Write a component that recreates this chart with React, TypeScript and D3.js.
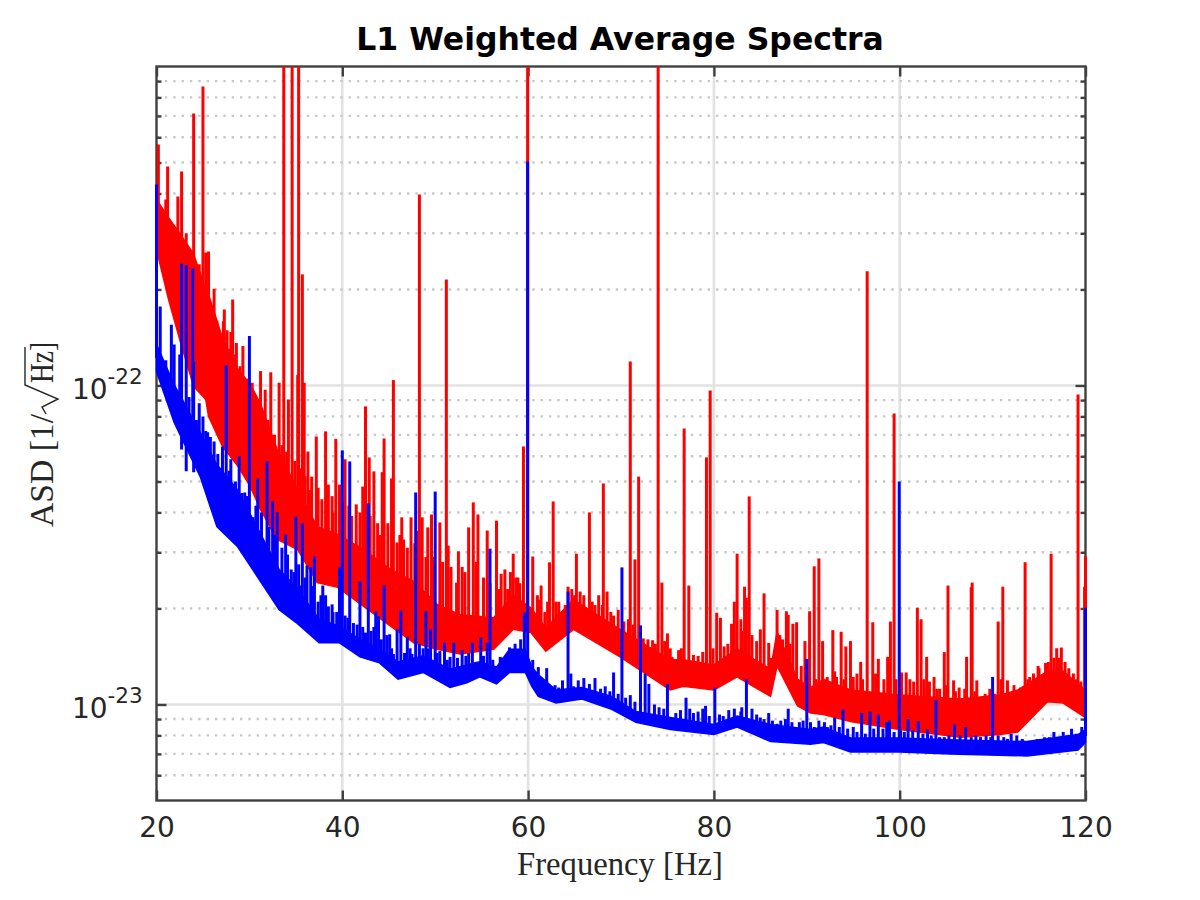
import { useEffect, useRef } from 'react';
import * as d3 from 'd3';

// all ASD values below are in units of 1e-23 / sqrt(Hz)
const unit = 1e-23;

const xTicks = [20, 40, 60, 80, 100, 120];
const yMajorTicks = [1e-23, 1e-22];
const yMinorTicks = [6e-24, 7e-24, 8e-24, 9e-24, 2e-23, 3e-23, 4e-23, 5e-23, 6e-23, 7e-23, 8e-23, 9e-23,
  2e-22, 3e-22, 4e-22, 5e-22, 6e-22, 7e-22, 8e-22, 9e-22];
const yTickLabels = ['-23', '-22'];

// noise floor of the red trace
const redBandHz = [20, 21.3, 22.6, 24, 25.3, 25.6, 27.1, 28.8, 30.1, 31.2, 33, 35.2, 37.3, 39.5, 42.3, 45.2, 47.7, 50.2, 52.7, 56.3, 58.4, 60.3, 61.9, 64.9, 69.9, 75.3, 76.7, 80, 82.5, 86.1, 86.8, 89, 90.4, 91.8, 94.7, 100, 106.5, 110.8, 112.7, 115.9, 117.6, 120];
const redBandLow = [26.7, 18.6, 13.6, 9.93, 9.04, 8, 6.44, 5.57, 4.82, 4.08, 3.29, 3.06, 2.41, 2.33, 2.03, 1.76, 1.56, 1.49, 1.44, 1.49, 1.72, 1.68, 1.47, 1.72, 1.41, 1.11, 1.14, 1.11, 1.22, 1.06, 1.32, 0.99, 0.94, 0.93, 0.885, 0.835, 0.79, 0.805, 0.82, 1.02, 1.01, 0.91];
const redBandHigh = [38.3, 33.6, 29.7, 25.8, 20, 19.3, 14.1, 11.2, 10.1, 8.75, 6.3, 4.72, 3.61, 3.41, 3.06, 2.65, 2.43, 2.06, 1.91, 1.87, 2.2, 2.01, 1.74, 2.13, 1.72, 1.38, 1.38, 1.33, 1.49, 1.29, 1.69, 1.2, 1.13, 1.2, 1.11, 1.07, 1.04, 1.07, 1.11, 1.27, 1.27, 1.11];

const redPeakHz = [20.2, 20.4, 21, 21.2, 21.5, 21.9, 22.3, 22.7, 23, 23.2, 23.4, 24, 24.3, 25, 25.3, 25.6, 26.2, 27.2, 27.3, 27.6, 28, 28.2, 28.6, 29.3, 30.3, 31.2, 31.7, 32.3, 33.2, 33.7, 34.2, 34.6, 35.2, 35.3, 35.7, 35.9, 36.3, 36.7, 37.2, 37.4, 38.2, 38.5, 39.3, 39.7, 40.3, 41.5, 42.2, 42.5, 42.9, 43.4, 44.3, 44.5, 45.3, 45.5, 45.9, 46.4, 46.6, 47.4, 48.3, 48.6, 49.2, 49.6, 50.5, 51.2, 51.4, 52.3, 52.5, 53.6, 54.1, 54.6, 55.6, 56.6, 57.1, 57.5, 58.4, 58.9, 59.5, 59.95, 60.5, 61.2, 61.4, 62.3, 62.7, 63.3, 63.7, 64.3, 65.2, 65.6, 66.6, 67.6, 68.1, 68.5, 69.7, 71, 71.5, 71.9, 72.4, 73.4, 74, 74.4, 75, 75.5, 75.9, 76.8, 77.3, 79.2, 79.6, 80.3, 80.7, 81.9, 82.2, 82.5, 82.9, 83.3, 83.5, 83.8, 85, 85.4, 85.9, 86.8, 87.8, 88, 88.5, 88.9, 89.8, 90.3, 90.8, 91.3, 91.7, 92.8, 93.2, 93.7, 94.2, 94.7, 95.8, 96.5, 97.1, 97.7, 98.7, 99, 99.4, 100.2, 100.7, 101.9, 102.3, 102.9, 103.7, 104.3, 104.8, 105.2, 105.8, 106.8, 107.2, 107.7, 107.8, 108.3, 108.7, 110.6, 111.1, 111.6, 112, 112.5, 113, 113.5, 114, 114.9, 115.4, 116, 116.3, 116.9, 117.4, 117.8, 119, 119.2, 119.9, 120];
const redPeakAsd = [56.9, 35.1, 38.3, 48.6, 30.4, 30.4, 39.1, 46.9, 24.8, 30, 22.3, 71.2, 22.8, 86.6, 26.1, 26.3, 20.1, 15.9, 17.3, 14.9, 14.7, 18.6, 13.6, 13.3, 10.2, 11.1, 9.7, 11, 10.2, 130, 9.04, 130, 10.8, 130, 22.3, 10.2, 6.21, 5.18, 6.92, 4.78, 7.18, 4.89, 6.8, 4.89, 5.87, 4.24, 4.82, 8.6, 5.95, 5.38, 5.35, 6.82, 5.11, 10.4, 3.22, 3.86, 3.29, 3.86, 39.7, 3.86, 3.59, 3.94, 3.72, 21.5, 3.15, 2.41, 3.02, 3.59, 4.3, 3.94, 3.51, 3.77, 2.57, 2.65, 2.97, 2.5, 6.44, 160, 2.91, 2.13, 2.36, 2.79, 4.33, 2.1, 1.96, 2.34, 2.97, 2.26, 4, 2.2, 4.93, 2.26, 1.98, 11.9, 2.85, 5.18, 1.61, 1.59, 150, 2.41, 1.67, 1.41, 1.36, 7.33, 2.36, 5.95, 9.65, 1.94, 1.87, 1.79, 2.1, 2.97, 1.85, 2.34, 2.16, 4.49, 1.72, 2.23, 1.56, 1.98, 1.96, 1.91, 1.79, 1.81, 1.58, 1.96, 2.71, 2.87, 1.58, 1.71, 1.22, 1.69, 1.52, 1.58, 1.36, 22.8, 1.81, 1.39, 1.41, 1.82, 8.17, 1.26, 1.26, 2.01, 1.85, 1.41, 1.22, 1.12, 1.46, 2.36, 1.19, 1.04, 1.41, 2.33, 2.41, 1.19, 1.05, 1.82, 2.34, 1.19, 1.05, 1.09, 1.13, 2.79, 1.22, 1.32, 1.22, 1.36, 2.97, 1.5, 1.51, 1.36, 1.2, 9.37, 2.34, 2.91];

// the small comb lines that make the top of the red band rough
const redCombHz = [20.7, 21.7, 22.1, 22.9, 23.7, 24.6, 24.8, 25.9, 26.5, 26.9, 27.9, 28.4, 29, 29.7, 30, 30.8, 31.5, 32, 32.7, 33.5, 34, 34.9, 35.5, 36, 36.5, 37.8, 38.9, 39, 40, 40.7, 41, 41.9, 43, 43.8, 44, 44.9, 46.2, 47, 47.8, 48, 49, 49.9, 50.8, 51.7, 52.9, 53.2, 54.4, 55.2, 55.9, 56.9, 57.8, 58.1, 58.7, 59.1, 61, 61.8, 62.1, 63, 64, 64.7, 65, 66, 66.9, 67.2, 68, 68.9, 69.2, 70.3, 70.8, 71.3, 72, 72.9, 73.7, 74.7, 75.3, 76.2, 76.5, 77.8, 78.3, 78.8, 79.9, 81.1, 81.5, 83, 84.1, 84.6, 86.2, 87.1, 87.4, 88.2, 89.4, 90, 91, 92.2, 93, 94, 95, 95.4, 96, 97.4, 98.3, 99.6, 100, 101.1, 101.5, 102.6, 103.2, 104, 105, 106, 106.4, 107, 108.1, 109.2, 109.7, 110.2, 110.9, 112.3, 112.9, 113.8, 114.4, 115, 115.7, 116.6, 117.1, 118.2, 118.7, 119.5];
const redCombAsd = [33, 28, 26, 27, 25, 24, 21, 17, 16, 14, 13, 12.5, 11.5, 10.5, 9.8, 8.8, 8.2, 7.8, 7, 6.5, 6.2, 5.8, 5.5, 5.2, 4.7, 4.4, 4.5, 4, 4.3, 4.2, 3.9, 4, 3.9, 3.7, 3.4, 3.7, 3.4, 3.1, 3.2, 3.5, 2.9, 2.9, 2.8, 2.7, 2.7, 2.6, 2.8, 2.5, 2.4, 2.3, 2.3, 2.6, 2.5, 2.4, 2.2, 1.95, 2.1, 2.1, 2.05, 2.3, 2.2, 2.2, 2.1, 2.05, 2.05, 1.95, 1.9, 1.82, 1.85, 1.78, 1.75, 1.6, 1.55, 1.58, 1.5, 1.48, 1.5, 1.43, 1.42, 1.46, 1.5, 1.52, 1.55, 1.7, 1.65, 1.58, 1.4, 1.65, 1.6, 1.55, 1.32, 1.3, 1.2, 1.22, 1.27, 1.2, 1.22, 1.25, 1.2, 1.25, 1.2, 1.2, 1.15, 1.2, 1.18, 1.2, 1.18, 1.12, 1.15, 1.1, 1.13, 1.12, 1.1, 1.08, 1.12, 1.08, 1.2, 1.15, 1.12, 1.2, 1.25, 1.3, 1.35, 1.4, 1.4, 1.3, 1.25, 1.18];

// noise floor of the blue trace
const blueBandHz = [20, 21.9, 24.7, 26.5, 28.7, 33.2, 35, 37.5, 39.7, 41.9, 44, 46, 48.7, 51.6, 53.4, 54.8, 56.6, 58, 59.7, 60.4, 61.1, 63, 65.8, 69, 71.6, 75.3, 80, 82.5, 86.1, 90.4, 91.8, 94.7, 100, 105.4, 113.7, 119.2, 120];
const blueBandLow = [11.06, 7.66, 5.18, 3.61, 3.13, 1.98, 1.81, 1.56, 1.56, 1.41, 1.35, 1.2, 1.26, 1.13, 1.17, 1.22, 1.16, 1.26, 1.26, 1.14, 1.06, 1.01, 1.04, 0.965, 0.88, 0.835, 0.805, 0.85, 0.765, 0.75, 0.76, 0.71, 0.71, 0.7, 0.69, 0.72, 0.76];
const blueBandHigh = [13.45, 10.07, 7.13, 5.65, 4.72, 2.65, 2.34, 1.85, 1.76, 1.6, 1.49, 1.36, 1.42, 1.29, 1.33, 1.36, 1.31, 1.49, 1.49, 1.31, 1.24, 1.11, 1.13, 1.06, 0.95, 0.91, 0.865, 0.92, 0.865, 0.835, 0.85, 0.785, 0.785, 0.775, 0.765, 0.805, 0.835];

const bluePeakHz = [20, 20.4, 21, 21.6, 21.9, 22.5, 22.7, 22.7, 23.2, 23.2, 23.9, 24, 24, 24.6, 25, 25.5, 26.2, 27.1, 27.5, 28, 28.5, 28.9, 29.5, 30, 30.4, 30.9, 31.9, 32.5, 33, 33.9, 34.5, 35, 35.6, 35.7, 36.2, 36.6, 37, 37.4, 37.9, 38.5, 38.9, 39.7, 40, 40.6, 40.8, 41.6, 41.9, 42.5, 42.8, 43.6, 43.9, 44.5, 45.1, 45.5, 45.9, 46.3, 47, 47.5, 47.9, 49, 49.5, 50, 50.5, 51, 51.6, 52, 52.9, 54, 54.4, 54.9, 55.6, 55.9, 57, 57.5, 58, 58.4, 58.9, 59.6, 59.95, 60.5, 61.1, 62, 62.9, 63.7, 64.3, 64.6, 65.4, 66, 67.2, 68.3, 69.2, 70.1, 71, 72.1, 72.6, 73, 74.1, 75, 75.9, 77, 77.8, 79.1, 79.5, 80.1, 81, 82.9, 83.5, 85, 85.9, 86.8, 88, 88.7, 90, 90.8, 92.2, 93, 93.9, 95, 95.9, 96.8, 97.7, 98.6, 98.9, 99.95, 100.5, 100.9, 102, 103, 103.9, 104.8, 105.9, 107.1, 108.7, 110, 110.6, 112, 112.6, 115.6, 116.6, 117.6, 118.5, 119.6, 120];
const bluePeakAsd = [42.7, 17.7, 12, 15.5, 13.45, 12.5, 24.1, 6.3, 23.8, 5.38, 23.3, 11.9, 5.35, 8.8, 8, 7.13, 6.68, 6.44, 11.6, 5.87, 5, 6, 4.62, 14.3, 3.86, 5.11, 5.78, 4.33, 4, 3.41, 2.65, 3.88, 2.36, 3.69, 2.73, 2.69, 2.91, 2.1, 2.36, 2.03, 2.06, 2.69, 6.26, 1.87, 5.78, 1.78, 2.43, 1.68, 4.27, 1.96, 1.89, 2.36, 1.66, 1.44, 1.72, 1.97, 1.63, 1.44, 4.62, 1.96, 1.72, 4.65, 1.47, 1.56, 1.41, 1.56, 1.48, 1.56, 1.36, 1.62, 1.56, 3.08, 1.41, 1.35, 1.51, 1.46, 1.48, 1.94, 50.4, 1.38, 1.31, 1.3, 1.15, 1.19, 2.26, 1.25, 1.19, 1.21, 1.21, 1.14, 1.26, 2.69, 1.07, 1.77, 1.25, 1.16, 0.98, 1.16, 0.94, 1.05, 0.94, 0.99, 0.92, 1.13, 0.92, 0.95, 1.2, 0.91, 0.94, 0.87, 0.97, 0.85, 1.39, 0.85, 0.85, 0.91, 0.965, 0.85, 0.94, 0.95, 0.93, 0.88, 0.89, 5, 0.82, 0.9, 0.885, 0.835, 1.03, 0.79, 0.865, 0.85, 0.79, 1.22, 0.8, 0.81, 0.8, 0.79, 0.82, 0.82, 0.84, 0.85, 2.01];

const blueCombHz = [22, 23.5, 24.3, 25.3, 25.8, 26.6, 27.8, 29.2, 29.8, 30.7, 31.3, 32.1, 32.8, 33.5, 34.1, 34.8, 35.3, 36, 36.9, 37.7, 38.2, 39, 39.4, 40.3, 41.2, 42.2, 43.1, 43.4, 44.2, 44.8, 45.3, 46.7, 47.3, 48.3, 48.7, 49.2, 50.2, 51.3, 52.4, 53.3, 53.6, 55.2, 56.2, 57.2, 57.7, 58.6, 59.2, 60.9, 61.6, 62.4, 63.3, 64.9, 65.8, 66.6, 67.8, 68.8, 69.7, 70.5, 71.5, 73.6, 74.6, 76.4, 77.4, 78.3, 78.8, 80.6, 81.6, 82.2, 83, 84.1, 84.6, 85.4, 86.3, 87.2, 87.7, 88.4, 89.2, 89.6, 90.4, 91.3, 91.9, 92.6, 93.5, 94.4, 95.4, 96.3, 97.2, 98.2, 99.4, 100.1, 101.4, 102.5, 103.4, 104.3, 105.3, 106.5, 107.7, 108.2, 109.3, 109.8, 111.2, 111.6, 113.2, 114, 114.8, 116.1, 117, 118, 119];
const blueCombAsd = [9.8, 9.2, 7.8, 7.2, 6.9, 6.1, 5.4, 4.6, 4.5, 4.2, 4, 3.6, 3.4, 3.1, 2.95, 2.6, 2.75, 2.5, 2.35, 2.2, 2.2, 1.95, 1.95, 1.9, 1.8, 1.75, 1.7, 1.75, 1.6, 1.65, 1.5, 1.45, 1.5, 1.55, 1.5, 1.5, 1.45, 1.38, 1.4, 1.42, 1.45, 1.42, 1.38, 1.4, 1.42, 1.55, 1.6, 1.22, 1.17, 1.14, 1.13, 1.14, 1.13, 1.16, 1.12, 1.1, 1.08, 1.05, 1.02, 1, 0.97, 0.96, 0.97, 0.95, 0.97, 0.93, 0.96, 0.97, 0.98, 0.97, 0.93, 0.9, 0.89, 0.89, 0.9, 0.88, 0.88, 0.89, 0.88, 0.89, 0.88, 0.86, 0.85, 0.84, 0.82, 0.81, 0.84, 0.84, 0.82, 0.83, 0.83, 0.81, 0.8, 0.79, 0.8, 0.8, 0.79, 0.8, 0.8, 0.79, 0.79, 0.78, 0.78, 0.77, 0.78, 0.79, 0.79, 0.8, 0.81];

const width = 1200;
const height = 900;
const margin = { top: 66.5, right: 114.5, bottom: 99.5, left: 156.5 };

export default function App() {
  const svgRef = useRef<SVGSVGElement>(null);

  useEffect(() => {
    if (!svgRef.current) return;

    const svg = d3.select(svgRef.current);
    svg.selectAll('*').remove();

    const innerWidth = width - margin.left - margin.right;
    const innerHeight = height - margin.top - margin.bottom;

    const x = d3.scaleLinear().domain([20, 120]).range([0, innerWidth]);
    const y = d3.scaleLog().domain([5e-24, 1e-21]).range([innerHeight, 0]);

    svg.append('defs').append('clipPath').attr('id', 'plot-clip')
      .append('rect')
      .attr('x', -2)
      .attr('y', 0)
      .attr('width', innerWidth + 4)
      .attr('height', innerHeight);

    const g = svg.append('g').attr('transform', `translate(${margin.left},${margin.top})`);

    // grid
    g.selectAll('.grid-x')
      .data(xTicks.slice(1, -1))
      .enter().append('line')
      .attr('x1', d => x(d))
      .attr('x2', d => x(d))
      .attr('y1', 0)
      .attr('y2', innerHeight)
      .attr('stroke', '#e2e2e2')
      .attr('stroke-width', 2.6);

    g.selectAll('.grid-y')
      .data(yMajorTicks)
      .enter().append('line')
      .attr('x1', 0)
      .attr('x2', innerWidth)
      .attr('y1', d => y(d))
      .attr('y2', d => y(d))
      .attr('stroke', '#e2e2e2')
      .attr('stroke-width', 2.6);

    g.selectAll('.grid-minor')
      .data(yMinorTicks)
      .enter().append('line')
      .attr('x1', 0)
      .attr('x2', innerWidth)
      .attr('y1', d => y(d))
      .attr('y2', d => y(d))
      .attr('stroke', '#c8c8c8')
      .attr('stroke-width', 2.4)
      .attr('stroke-dasharray', '2.4,5.95');

    // axes
    const tickColor = '#404040';
    const textColor = '#262626';
    const styleAxis = (sel: d3.Selection<SVGGElement, unknown, null, undefined>) => {
      sel.select('.domain').remove();
      sel.selectAll('line').attr('stroke', tickColor).attr('stroke-width', 2.4);
    };

    const fmtNone = () => '';

    g.append('g')
      .attr('transform', `translate(0,${innerHeight})`)
      .call(d3.axisBottom(x).tickValues(xTicks).tickSize(-10).tickPadding(16.6).tickFormat(d => String(d)))
      .call(styleAxis)
      .selectAll('text')
      .attr('fill', textColor)
      .attr('font-family', 'DejaVu Sans')
      .attr('font-size', 28);

    g.append('g')
      .call(d3.axisTop(x).tickValues(xTicks).tickSize(-10).tickFormat(fmtNone))
      .call(styleAxis);

    [0, innerWidth].forEach((pos, i) => {
      const axis = i === 0 ? d3.axisLeft(y) : d3.axisRight(y);
      g.append('g')
        .attr('transform', `translate(${pos},0)`)
        .call(axis.tickValues(yMajorTicks).tickSize(-10).tickFormat(fmtNone))
        .call(styleAxis);
      const minorAxis = i === 0 ? d3.axisLeft(y) : d3.axisRight(y);
      g.append('g')
        .attr('transform', `translate(${pos},0)`)
        .call(minorAxis.tickValues(yMinorTicks).tickSize(-5).tickFormat(fmtNone))
        .call(styleAxis);
    });

    g.append('rect')
      .attr('width', innerWidth)
      .attr('height', innerHeight)
      .attr('fill', 'none')
      .attr('stroke', tickColor)
      .attr('stroke-width', 2.4);

    const yLabels = g.selectAll('.y-label')
      .data(yMajorTicks)
      .enter().append('text')
      .attr('y', d => y(d) + 14)
      .attr('fill', textColor)
      .attr('font-family', 'DejaVu Sans');
    yLabels.append('tspan')
      .attr('x', -84.5)
      .attr('font-size', 28)
      .text('10');
    yLabels.append('tspan')
      .attr('x', -49)
      .attr('dy', -15)
      .attr('font-size', 21.5)
      .text((d, i) => yTickLabels[i]);

    // traces
    const plot = g.append('g').attr('clip-path', 'url(#plot-clip)');

    const drawTrace = (hz: number[], low: number[], high: number[], peakHz: number[], peakAsd: number[], color: string) => {
      const area = d3.area<number>()
        .x(d => x(d))
        .y0((d, i) => y(low[i] * unit))
        .y1((d, i) => y(high[i] * unit));

      plot.append('path')
        .attr('d', area(hz))
        .attr('fill', color)
        .attr('stroke', color)
        .attr('stroke-width', 1.5);

      // spikes start from the middle of the noise band
      const bandAt = (f: number) => {
        const j = Math.max(1, d3.bisectLeft(hz, f));
        const t = (f - hz[j - 1]) / (hz[j] - hz[j - 1]);
        return Math.sqrt(low[j - 1] * high[j - 1]) * (1 - t) + Math.sqrt(low[j] * high[j]) * t;
      };

      plot.selectAll(null)
        .data(peakHz)
        .enter().append('line')
        .attr('x1', d => x(d))
        .attr('x2', d => x(d))
        .attr('y1', d => y(bandAt(d) * unit))
        .attr('y2', (d, i) => y(peakAsd[i] * unit))
        .attr('stroke', color)
        .attr('stroke-width', 3);
    };

    drawTrace(redBandHz, redBandLow, redBandHigh, redPeakHz.concat(redCombHz), redPeakAsd.concat(redCombAsd), '#ff0000');
    drawTrace(blueBandHz, blueBandLow, blueBandHigh, bluePeakHz.concat(blueCombHz), bluePeakAsd.concat(blueCombAsd), '#0000ff');

    // title and axis labels
    svg.append('text')
      .attr('x', 620)
      .attr('y', 50)
      .attr('text-anchor', 'middle')
      .attr('font-family', 'DejaVu Sans')
      .attr('font-weight', 'bold')
      .attr('font-size', 31.5)
      .attr('fill', '#000')
      .text('L1 Weighted Average Spectra');

    svg.append('text')
      .attr('x', 517)
      .attr('y', 875)
      .attr('font-family', 'Liberation Serif')
      .attr('font-size', 33)
      .attr('fill', textColor)
      .attr('textLength', 206)
      .attr('lengthAdjust', 'spacingAndGlyphs')
      .text('Frequency [Hz]');

    const yTitle = svg.append('g').attr('transform', 'translate(53,527) rotate(-90)');
    yTitle.append('text')
      .attr('font-family', 'Liberation Serif')
      .attr('font-size', 33)
      .attr('fill', textColor)
      .attr('textLength', 113)
      .attr('lengthAdjust', 'spacingAndGlyphs')
      .text('ASD [1/');
    yTitle.append('path')
      .attr('d', 'M113,-7 L120,-11 L128,5 L142,-28 L180,-28')
      .attr('fill', 'none')
      .attr('stroke', textColor)
      .attr('stroke-width', 1.4);
    yTitle.append('text')
      .attr('x', 144)
      .attr('font-family', 'Liberation Serif')
      .attr('font-size', 33)
      .attr('fill', textColor)
      .attr('textLength', 41)
      .attr('lengthAdjust', 'spacingAndGlyphs')
      .text('Hz]');
  }, []);

  return (
    <svg
      ref={svgRef}
      width={width}
      height={height}
      style={{ position: 'absolute', left: 0, top: 0, background: '#fff' }}
    />
  );
}
